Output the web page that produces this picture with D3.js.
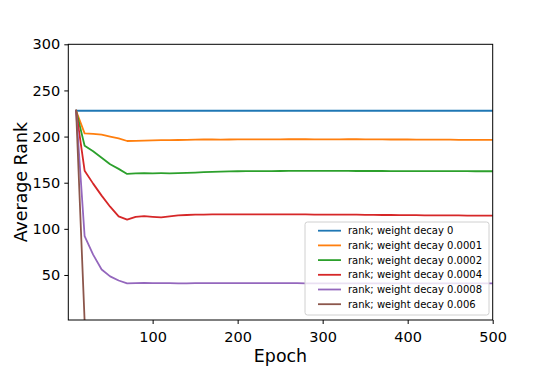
<!DOCTYPE html>
<html>
<head>
<meta charset="utf-8">
<script src="https://cdn.jsdelivr.net/npm/d3@7"></script>
<style>
  body { margin: 0; background: #fff; }
  svg text { font-family: "DejaVu Sans", sans-serif; fill: #000; }
</style>
</head>
<body>
<div id="chart"></div>
<script>
// Epochs sampled every 10 from 10 to 500
const epochs = d3.range(10, 501, 10);

const labels = [
  "rank; weight decay 0",
  "rank; weight decay 0.0001",
  "rank; weight decay 0.0002",
  "rank; weight decay 0.0004",
  "rank; weight decay 0.0008",
  "rank; weight decay 0.006"
];
const colors = ["#1f77b4", "#ff7f0e", "#2ca02c", "#d62728", "#9467bd", "#8c564b"];

const wd0 = [228,228,228,228,228,228,228,228,228,228, 228,228,228,228,228,228,228,228,228,228,
  228,228,228,228,228,228,228,228,228,228, 228,228,228,228,228,228,228,228,228,228,
  228,228,228,228,228,228,228,228,228,228];
const wd0001 = [228,203.5,203,202,200,198,195.2,195.4,195.6,195.9, 196.1,196.2,196.3,196.4,196.6,196.8,196.8,196.7,196.8,196.9,
  197,197,197,197,197,197.1,197.1,197.1,197,197, 197,197,197.1,197.1,197,196.9,196.9,196.8,196.8,196.8,
  196.7,196.7,196.6,196.6,196.6,196.5,196.5,196.5,196.4,196.4];
const wd0002 = [228,190,184,177,170,165,159.5,160.1,160.3,160.2, 160.3,160.2,160.4,160.6,161,161.4,161.8,162,162.2,162.4,
  162.5,162.5,162.6,162.6,162.7,162.8,162.9,162.9,162.8,162.8, 162.8,162.8,162.8,162.7,162.7,162.7,162.7,162.6,162.6,162.6,
  162.6,162.6,162.5,162.5,162.5,162.5,162.5,162.4,162.4,162.4];
const wd0004 = [228,163,149,136,124,113.5,110,113,113.8,113, 112.4,113.5,114.5,115,115.3,115.5,115.6,115.6,115.7,115.7,
  115.7,115.7,115.7,115.6,115.6,115.6,115.6,115.6,115.5,115.5, 115.5,115.4,115.3,115.3,115.2,115.1,115,115,114.9,114.8,
  114.8,114.7,114.7,114.6,114.5,114.5,114.4,114.4,114.3,114.3];
const wd0008 = [228,92,72,56,48.5,44,40.8,41.2,41.3,41.2, 41.1,41.1,41,41,41.1,41.1,41.2,41.2,41.2,41.2,
  41.2,41.2,41.1,41.1,41.1,41.1,41.1,41,41,41, 41,41,41,41,41,41,41,41,41,41,
  41,40.9,40.9,40.9,40.9,40.9,40.8,40.8,40.8,40.8];
const wd006 = [228,0,0,0,0,0,0,0,0,0, 0,0,0,0,0,0,0,0,0,0,
  0,0,0,0,0,0,0,0,0,0, 0,0,0,0,0,0,0,0,0,0,
  0,0,0,0,0,0,0,0,0,0];

const seriesValues = [wd0, wd0001, wd0002, wd0004, wd0008, wd006];
const xTicks = [100, 200, 300, 400, 500];
const yTicks = [50, 100, 150, 200, 250, 300];

const width = 548, height = 366;
const margin = {top: 44.3, right: 55.3, bottom: 46, left: 68.3};
const innerW = width - margin.left - margin.right;
const innerH = height - margin.top - margin.bottom;

const svg = d3.select('#chart').append('svg')
    .attr('width', width)
    .attr('height', height);

const g = svg.append('g')
    .attr('transform', `translate(${margin.left},${margin.top})`);

const x = d3.scaleLinear().domain([0.8, 500]).range([0, innerW]);
const y = d3.scaleLinear().domain([1.2, 300]).range([innerH, 0]);

g.append('clipPath').attr('id', 'clip')
  .append('rect').attr('width', innerW).attr('height', innerH);

const line = d3.line()
    .x((d, i) => x(epochs[i]))
    .y(d => y(d));

g.append('g').attr('clip-path', 'url(#clip)')
  .selectAll('path')
  .data(seriesValues)
  .join('path')
    .attr('d', line)
    .attr('fill', 'none')
    .attr('stroke', (d, i) => colors[i])
    .attr('stroke-width', 1.8)
    .attr('stroke-linejoin', 'round')
    .attr('stroke-linecap', 'square');

// Axes
const xAxis = g.append('g')
    .attr('transform', `translate(0,${innerH})`)
    .call(d3.axisBottom(x).tickValues(xTicks).tickSize(4).tickPadding(4).tickSizeOuter(0));
const yAxis = g.append('g')
    .call(d3.axisLeft(y).tickValues(yTicks).tickSize(4).tickPadding(4).tickSizeOuter(0));

[xAxis, yAxis].forEach(a => {
  a.select('.domain').remove();
  a.selectAll('.tick line').attr('stroke', '#000').attr('stroke-width', 1);
  a.selectAll('.tick text').style('font-size', '14.5px').style('font-family', '"DejaVu Sans", sans-serif');
});
xAxis.selectAll('.tick text').attr('dy', '0.95em');

// Spines
g.append('rect')
    .attr('width', innerW)
    .attr('height', innerH)
    .attr('fill', 'none')
    .attr('stroke', '#000')
    .attr('stroke-width', 1);

// Axis labels
svg.append('text')
    .attr('x', margin.left + innerW / 2)
    .attr('y', 362)
    .attr('text-anchor', 'middle')
    .style('font-size', '17.4px')
    .text('Epoch');

svg.append('text')
    .attr('transform', `translate(27,${margin.top + innerH / 2}) rotate(-90)`)
    .attr('text-anchor', 'middle')
    .style('font-size', '17.4px')
    .text('Average Rank');

// Legend
const legend = svg.append('g');
const lx = 305, ly = 222, lw = 184, lh = 93, rowH = 14.7;
legend.append('rect')
    .attr('x', lx).attr('y', ly)
    .attr('width', lw).attr('height', lh)
    .attr('rx', 2.5)
    .attr('fill', '#fff').attr('fill-opacity', 0.8)
    .attr('stroke', '#d0d0d0').attr('stroke-width', 1);

labels.forEach((lab, i) => {
  const cy = ly + 8.7 + i * rowH;
  legend.append('line')
    .attr('x1', lx + 13).attr('x2', lx + 36)
    .attr('y1', cy).attr('y2', cy)
    .attr('stroke', colors[i]).attr('stroke-width', 1.8);
  legend.append('text')
    .attr('x', lx + 43).attr('y', cy)
    .attr('dy', '0.35em')
    .style('font-size', '10px')
    .text(lab);
});
</script>
</body>
</html>
